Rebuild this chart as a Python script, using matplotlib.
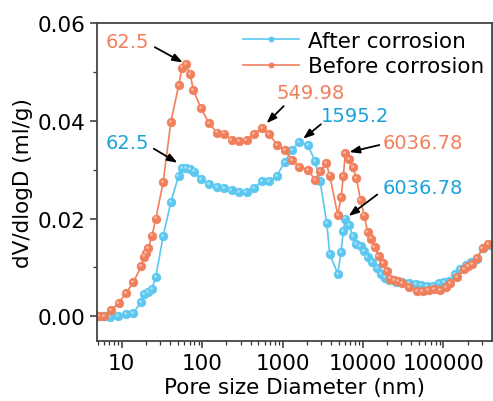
import matplotlib
matplotlib.use('Agg')
import matplotlib.pyplot as plt
from matplotlib import transforms
from matplotlib.ticker import FixedLocator, FixedFormatter, LogLocator, NullFormatter, MultipleLocator
import numpy as np

# pore size data (nm) and dV/dlogD (ml/g)
before_x = [5.2, 6.0, 7.3, 9.1, 11.2, 13.9, 17.4, 18.9, 19.9, 21.4, 23.8, 26.5, 32.7, 40.7, 51.2,
            56.2, 62.5, 70.8, 77.8, 96.2, 122, 152, 187, 232, 289, 356, 442, 549.98, 685, 847,
            1065, 1312, 1618, 2064, 2538, 2926, 3505, 3865, 4863, 5343, 5706, 6036.78, 6716, 7468, 8279,
            9333, 10377, 11410, 12610, 13940, 15630, 17780, 19770, 21930, 24380, 27560, 30640, 37120, 46680, 55110,
            65460, 76580, 92260, 107400, 122200, 149300, 179800, 204600, 228700, 264800, 307400, 363100]
before_y = [0.0000, 0.0000, 0.0012, 0.0027, 0.0047, 0.0069, 0.0102, 0.0122, 0.0129, 0.0139, 0.0165, 0.0200, 0.0274, 0.0397, 0.0474,
            0.0509, 0.0516, 0.0495, 0.0463, 0.0426, 0.0395, 0.0376, 0.0374, 0.0361, 0.0358, 0.0361, 0.0373, 0.0385, 0.0373, 0.0351,
            0.0340, 0.0319, 0.0306, 0.0300, 0.0279, 0.0297, 0.0313, 0.0288, 0.0207, 0.0243, 0.0286, 0.0334, 0.0322, 0.0306, 0.0283,
            0.0238, 0.0206, 0.0173, 0.0159, 0.0142, 0.0124, 0.0108, 0.0092, 0.0077, 0.0074, 0.0072, 0.0068, 0.0059, 0.0051, 0.0051,
            0.0054, 0.0056, 0.0054, 0.0059, 0.0068, 0.0080, 0.0097, 0.0103, 0.0106, 0.0119, 0.0140, 0.0147]

after_x = [5.2, 6.0, 7.2, 9.0, 11.2, 13.9, 17.4, 19.1, 21.4, 23.6, 26.5, 32.7, 40.7, 50.8, 55.9,
           62.5, 70.8, 80.0, 96.9, 122, 152, 186, 232, 289, 356, 442, 556, 685, 847, 1065,
           1312, 1595.2, 2064, 2538, 2926, 3548, 3865, 4863, 5343, 5706, 6036.78, 6716, 7468, 8279, 9333,
           10377, 11410, 13090, 14860, 16790, 18830, 21290, 25580, 30390, 37770, 45730, 52800, 62140, 73790, 89140,
           102800, 118800, 139900, 161500, 191600, 221100, 260200, 314500, 381000]
after_y = [0.0, 0.0, -0.0001, 0.0000, 0.0004, 0.0007, 0.0029, 0.0045, 0.0049, 0.0055, 0.0081, 0.0164, 0.0233, 0.0287, 0.0304,
           0.0304, 0.0302, 0.0296, 0.0280, 0.0271, 0.0265, 0.0263, 0.0259, 0.0255, 0.0254, 0.0262, 0.0276, 0.0276, 0.0287, 0.0316,
           0.0340, 0.0356, 0.0351, 0.0317, 0.0277, 0.0190, 0.0127, 0.0087, 0.0132, 0.0175, 0.0200, 0.0187, 0.0164, 0.0148, 0.0143,
           0.0134, 0.0121, 0.0110, 0.0098, 0.0087, 0.0079, 0.0074, 0.0070, 0.0069, 0.0067, 0.0066, 0.0064, 0.0061, 0.0062, 0.0067,
           0.0069, 0.0072, 0.0086, 0.0096, 0.0105, 0.0110, 0.0118, 0.0139, 0.0145]

x_ticks = [10, 100, 1000, 10000, 100000]
x_tick_labels = ['10', '100', '1000', '10000', '100000']

# peak labels: (series, x value, text)
peaks = [('before', 62.5, '62.5'), ('after', 62.5, '62.5'), ('before', 549.98, '549.98'),
         ('after', 1595.2, '1595.2'), ('before', 6036.78, '6036.78'), ('after', 6036.78, '6036.78')]

blue = '#5CC8F0'
orange = '#F07F5C'
blue_txt = '#1AA3DA'
orange_txt = '#F07F5C'

plt.rcParams['font.family'] = 'DejaVu Sans'
fig = plt.figure(figsize=(4.93, 4.02), dpi=100)
ax = fig.add_axes([0.197, 0.149, 0.800, 0.791])

hl = transforms.offset_copy(ax.transData, fig=fig, x=-0.8, y=0.8, units='points')
for xs, ys, c, lab in [(after_x, after_y, blue, 'After corrosion'),
                       (before_x, before_y, orange, 'Before corrosion')]:
    ax.plot(xs, ys, '-', color=c, lw=1.2, marker='o', ms=6.2, mfc=c, mec=c, mew=0.5, label=lab)
    # small highlight to mimic the shaded spheres
    ax.plot(xs, ys, 'o', ms=2.0, color='white', alpha=0.45, mec='none', transform=hl)

# annotations: text offset and arrow tail offset in pixels, tip shrink in points
layout = {
    0: ((-58, 23), (-31, 17), 2.5),
    1: ((-58, 25), (-32, 19), 7.0),
    2: ((49, 36), (22, 22), 5.0),
    3: ((56, 27), (22, 18), 4.0),
    4: ((77, 11), (34, 8), 3.0),
    5: ((77, 31), (32, 24), 3.0),
}
for i, (ser, xv, txt) in enumerate(peaks):
    xs, ys = (before_x, before_y) if ser == 'before' else (after_x, after_y)
    yv = ys[xs.index(xv)]
    tcol = orange_txt if ser == 'before' else blue_txt
    toff, aoff, shr = layout[i]
    ax.annotate('', xy=(xv, yv), xytext=aoff, textcoords='offset pixels',
                arrowprops=dict(arrowstyle='-|>,head_length=0.6,head_width=0.22', color='black',
                                lw=1.3, shrinkA=0, shrinkB=shr))
    ax.annotate(txt, xy=(xv, yv), xytext=toff, textcoords='offset pixels',
                ha='center', va='center', color=tcol, fontsize=14)

ax.set_xscale('log')
ax.set_xlim(4.93, 398000)
ax.set_ylim(-0.0051, 0.06)
ax.xaxis.set_major_locator(FixedLocator(x_ticks))
ax.xaxis.set_major_formatter(FixedFormatter(x_tick_labels))
ax.xaxis.set_minor_locator(LogLocator(base=10, subs=np.arange(2, 10)))
ax.xaxis.set_minor_formatter(NullFormatter())
ax.yaxis.set_major_locator(MultipleLocator(0.02))
ax.yaxis.set_minor_locator(MultipleLocator(0.01))
ax.yaxis.set_major_formatter(plt.FuncFormatter(lambda v, p: '%.2f' % v))

ax.tick_params(which='major', direction='out', length=5, width=1.1, labelsize=15.5, colors='#333333',
               labelcolor='black')
ax.tick_params(which='minor', direction='out', length=3, width=0.9, colors='#333333')
for s in ax.spines.values():
    s.set_linewidth(1.3)
    s.set_color('#444444')

ax.set_xlabel('Pore size Diameter (nm)', fontsize=15.5, labelpad=3)
ax.set_ylabel('dV/dlogD (ml/g)', fontsize=15.5, labelpad=3)

ax.legend(loc='upper right', frameon=False, fontsize=15.5, handlelength=2.6, handletextpad=0.4,
          labelspacing=0.25, borderaxespad=0.15, borderpad=0.2, markerscale=0.6)

fig.savefig('out.png', dpi=100)
